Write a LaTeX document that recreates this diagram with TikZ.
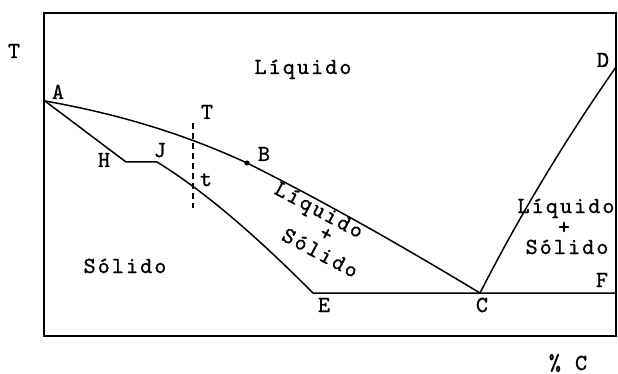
\documentclass[tikz,border=0pt]{standalone}
\usepackage{fontspec}
\newfontfamily\twfont{lmmono10-regular.otf}[LetterSpace=9,FakeBold=1]
\begin{document}
\begin{tikzpicture}[x=1pt,y=-1pt,
  curve/.style={line width=1.5pt, line join=round},
  lbl/.style={font=\twfont\fontsize{23}{26}\selectfont, anchor=base, inner sep=0pt},
  dashline/.style={line width=1.3pt, dash pattern=on 6pt off 4pt}]
\useasboundingbox (0,0) rectangle (618,374);
% frame
\draw[line width=1.5pt] (44,13) rectangle (616,336);
% points
\coordinate (A) at (45,101);
\coordinate (B) at (247,163);
\coordinate (C) at (480,293);
\coordinate (D) at (616,67);
\coordinate (H) at (126,162);
\coordinate (J) at (157,162);
\coordinate (E) at (313,293);
\coordinate (F) at (616,293);
\coordinate (Ttop) at (193,123);
\coordinate (Tbot) at (193,208);
% liquidus
\draw[curve] (A) .. controls (113,113) and (180,132) .. (B)
  .. controls (325,202) and (402,246) .. (C);
\draw[curve] (C) .. controls (525,205) and (572,130) .. (D);
% solidus
\draw[curve] (A) -- (H) -- (J) .. controls (209,194) and (261,241) .. (E) -- (F);
% dashed vertical
\draw[dashline] (Ttop) -- (Tbot);
% dot at B
\fill (B) circle (2.6pt);
% labels
\node[lbl] (lT) at (14,58) {T};
\node[lbl] (lLiq) at (303,74) {Líquido};
\node[lbl] (lA) at (58,99) {A};
\node[lbl] (lT2) at (207,119) {T};
\node[lbl] (lH) at (104,167) {H};
\node[lbl] (lJ) at (160,157) {J};
\node[lbl] (lB) at (264,161) {B};
\node[lbl] (lt) at (206,186) {t};
\node[lbl] (lD) at (603,67) {D};
\node[lbl] (lSol) at (125,273) {Sólido};
\node[lbl] (lE) at (324,312) {E};
\node[lbl] (lC) at (482,312) {C};
\node[lbl] (lF) at (602,287) {F};
\node[lbl] (lpC) at (568,370) {\% C};
\node[lbl] (rLiq) at (566,213) {Líquido};
\node[lbl] (rPlus) at (564,234) {+};
\node[lbl] (rSol) at (567,254) {Sólido};
\node[lbl, rotate=-28] (mLiq) at (316,216) {Líquido};
\node[lbl, rotate=-28] (mPlus) at (323,240) {+};
\node[lbl, rotate=-28] (mSol) at (317,259) {Sólido};
\end{tikzpicture}
\end{document}
